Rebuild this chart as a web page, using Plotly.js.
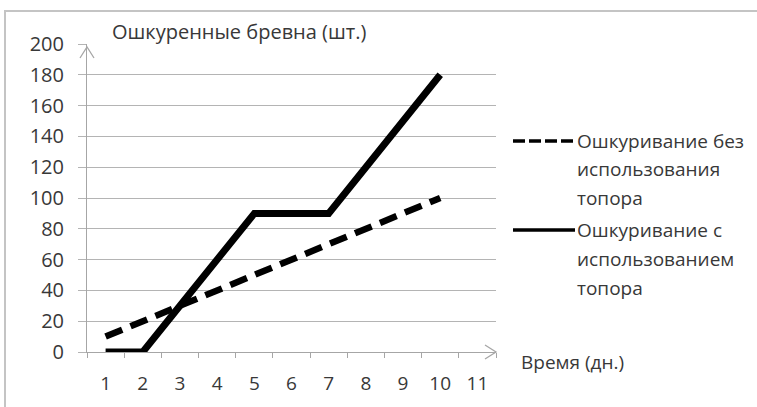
<!DOCTYPE html>
<html>
<head>
<meta charset="utf-8">
<script src="https://cdn.plot.ly/plotly-3.0.1.min.js"></script>
<style>html,body{margin:0;padding:0;background:#fff;}#chart{width:757px;height:407px;}</style>
</head>
<body>
<div id="chart"></div>
<script>
// ---- data ----
const days = ['1','2','3','4','5','6','7','8','9','10','11'];
const daysWithData = ['1','2','3','4','5','6','7','8','9','10'];
const withoutAxe = [10, 20, 30, 40, 50, 60, 70, 80, 90, 100];
const withAxe = [0, 0, 30, 60, 90, 90, 90, 120, 150, 180];
const seriesNames = [
  ['Ошкуривание без', 'использования', 'топора'],
  ['Ошкуривание с', 'использованием', 'топора']
];
const yTitle = 'Ошкуренные бревна (шт.)';
const xTitle = 'Время (дн.)';

// ---- layout geometry ----
const W = 757, H = 407, L = 87, R = 261, T = 44, B = 55;
const PW = W - L - R, PH = H - T - B;
const px = x => (x - L) / PW;
const py = y => (H - B - y) / PH;

const FONT = 'Open Sans, sans-serif';
const TXT = '#383838';
const FS = 19;

const traces = [
  {x: daysWithData, y: withoutAxe, type: 'scatter', mode: 'lines',
   line: {color: '#000', width: 6.5, dash: '18px,9px'}, name: seriesNames[0].join(' ')},
  {x: daysWithData, y: withAxe, type: 'scatter', mode: 'lines',
   line: {color: '#000', width: 7}, name: seriesNames[1].join(' ')}
];

const annotations = [
  {text: yTitle, xref: 'paper', yref: 'paper', x: px(110), y: py(31), xanchor: 'left', yanchor: 'middle',
   showarrow: false, font: {family: FONT, size: 20, color: TXT}},
  {text: xTitle, xref: 'paper', yref: 'paper', x: px(519), y: py(362), xanchor: 'left', yanchor: 'middle',
   showarrow: false, font: {family: FONT, size: FS, color: TXT}}
];
const legendY = [[141, 169, 198], [230, 259, 288]];
seriesNames.forEach((lines, i) => {
  lines.forEach((t, j) => {
    annotations.push({text: t, xref: 'paper', yref: 'paper', x: px(575), y: py(legendY[i][j]),
      xanchor: 'left', yanchor: 'middle', showarrow: false, font: {family: FONT, size: FS, color: TXT}});
  });
});

const shapes = [
  // outer frame (top and left)
  {type: 'path', xref: 'paper', yref: 'paper',
   path: `M${px(5)},${py(410)} L${px(5)},${py(11)} L${px(760)},${py(11)}`,
   line: {color: '#c4c4c4', width: 2}},
  // legend samples
  {type: 'line', xref: 'paper', yref: 'paper', x0: px(513), x1: px(575), y0: py(141), y1: py(141),
   line: {color: '#000', width: 3.5, dash: '12px,4px'}},
  {type: 'line', xref: 'paper', yref: 'paper', x0: px(513), x1: px(575), y0: py(230), y1: py(230),
   line: {color: '#000', width: 3.5}},
  // axis arrows
  {type: 'path', xref: 'paper', yref: 'paper', xsizemode: 'pixel', ysizemode: 'pixel',
   xanchor: 1, yanchor: 0, path: 'M-11,7 L0,0 L-11,-7', line: {color: '#a6a6a6', width: 1.3}},
  {type: 'path', xref: 'paper', yref: 'paper', xsizemode: 'pixel', ysizemode: 'pixel',
   xanchor: 0, yanchor: 1, path: 'M-7,-14 L0,-3 L7,-14', line: {color: '#a6a6a6', width: 1.3}}
];

const layout = {
  width: W, height: H,
  margin: {l: L, r: R, t: T, b: B, pad: 0},
  paper_bgcolor: '#fff', plot_bgcolor: '#fff',
  showlegend: false,
  font: {family: FONT, size: FS, color: TXT},
  xaxis: {
    type: 'category', categoryorder: 'array', categoryarray: days,
    range: [-0.5, 10.5], tickson: 'boundaries',
    ticks: 'outside', ticklen: 5, tickcolor: '#a6a6a6', tickwidth: 1,
    showgrid: false, zeroline: false, showline: true, linecolor: '#a6a6a6', linewidth: 1,
    ticklabelstandoff: 14, tickfont: {family: FONT, size: FS, color: TXT}, fixedrange: true
  },
  yaxis: {
    range: [0, 200], dtick: 20, tick0: 0,
    ticks: 'outside', ticklen: 8, tickcolor: '#b4b4b4', tickwidth: 1,
    showgrid: true, gridcolor: '#b4b4b4', gridwidth: 1,
    zeroline: false, showline: true, linecolor: '#a6a6a6', linewidth: 1,
    ticklabelstandoff: 10, tickfont: {family: FONT, size: 20, color: TXT}, fixedrange: true
  },
  annotations: annotations,
  shapes: shapes
};

Plotly.newPlot('chart', traces, layout, {staticPlot: true, displayModeBar: false});
</script>
</body>
</html>
